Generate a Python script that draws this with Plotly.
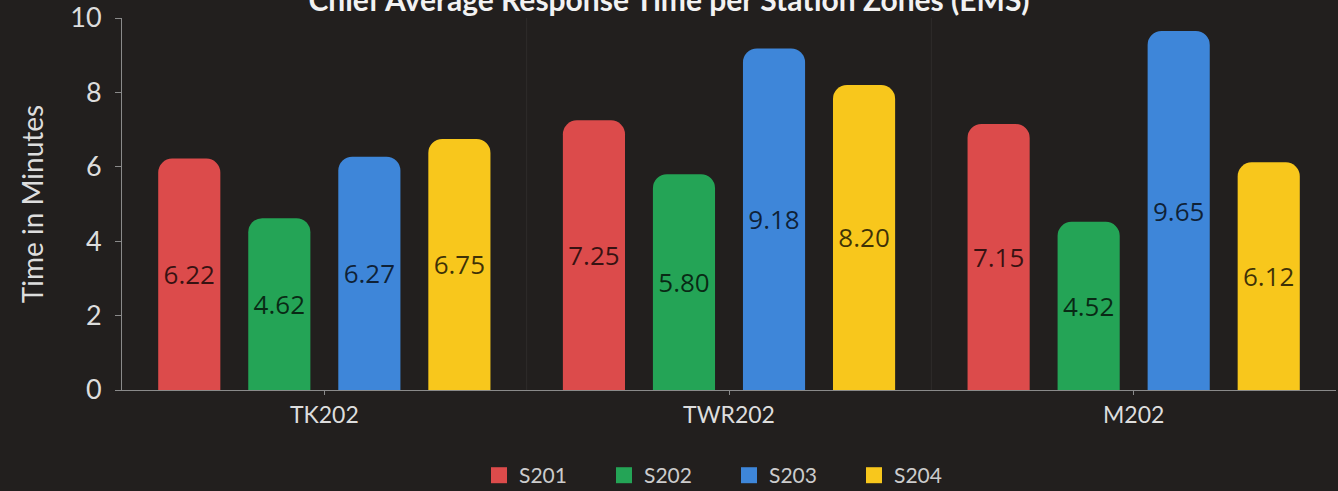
import plotly.graph_objects as go

zones = ["TK202", "TWR202", "M202"]
stations = ["S201", "S202", "S203", "S204"]
s201 = [6.22, 7.25, 7.15]
s202 = [4.62, 5.80, 4.52]
s203 = [6.27, 9.18, 9.65]
s204 = [6.75, 8.20, 6.12]
colors = ["#dc4b4b", "#24a456", "#3e86d9", "#f8c71c"]

fig = go.Figure()
for name, vals, col in zip(stations, [s201, s202, s203, s204], colors):
    fig.add_trace(go.Bar(
        x=zones, y=vals, name=name, legendgroup=name, showlegend=False,
        marker=dict(color=col, cornerradius=14, line=dict(width=0)),
        text=vals, texttemplate="%{y:.2f}",
        textposition="inside", insidetextanchor="middle",
        textfont=dict(family="Open Sans", size=26, color="rgba(0,0,0,0.75)"),
        textangle=0,
    ))
    # bigger legend swatch
    fig.add_trace(go.Scatter(
        x=[None], y=[None], mode="markers", name=name, legendgroup=name,
        marker=dict(symbol="square", size=22, color=col),
    ))

# faint dividers between zones
for xb in [0.5, 1.5]:
    fig.add_shape(type="line", xref="x", yref="paper", x0=xb, x1=xb, y0=0, y1=1,
                  line=dict(color="rgba(255,255,255,0.06)", width=1), layer="below")

fig.update_layout(
    width=1338, height=491,
    paper_bgcolor="#221f1e", plot_bgcolor="#221f1e",
    margin=dict(l=122, r=2, t=18, b=101, autoexpand=False),
    barmode="group", bargap=0.11, bargroupgap=0.31,
    font=dict(family="Lato", color="#dddddd"),
    title=dict(text="Chief Average Response Time per Station Zones (EMS)",
               x=0.5, xanchor="center", y=1.0, yanchor="middle", yref="container",
               font=dict(family="Lato", size=30, color="#f2f2f2", weight="bold")),
    showlegend=True,
    legend=dict(orientation="h", x=0.5, xanchor="center", y=-0.23, yanchor="middle",
                font=dict(size=21, color="#cccccc"), itemwidth=30, entrywidth=80,
                bgcolor="rgba(0,0,0,0)"),
)
fig.update_xaxes(
    showgrid=False, showline=True, linecolor="#8a8a8a", linewidth=1,
    ticks="outside", ticklen=4, tickcolor="#8a8a8a", automargin=False,
    tickfont=dict(size=23, color="#dddddd"),
)
fig.update_yaxes(
    range=[0, 10], tickvals=[0, 2, 4, 6, 8, 10], showgrid=False, zeroline=False,
    showline=True, linecolor="#8a8a8a", linewidth=1, automargin=False,
    ticks="outside", ticklen=6, tickcolor="#8a8a8a", ticklabelstandoff=8,
    tickfont=dict(size=27, color="#dddddd"),
    title=dict(text="Time in Minutes", font=dict(size=28, color="#dddddd"), standoff=18),
)

fig.write_html("out.html", config={"displayModeBar": False},
               post_script="document.body.style.margin='0';")
